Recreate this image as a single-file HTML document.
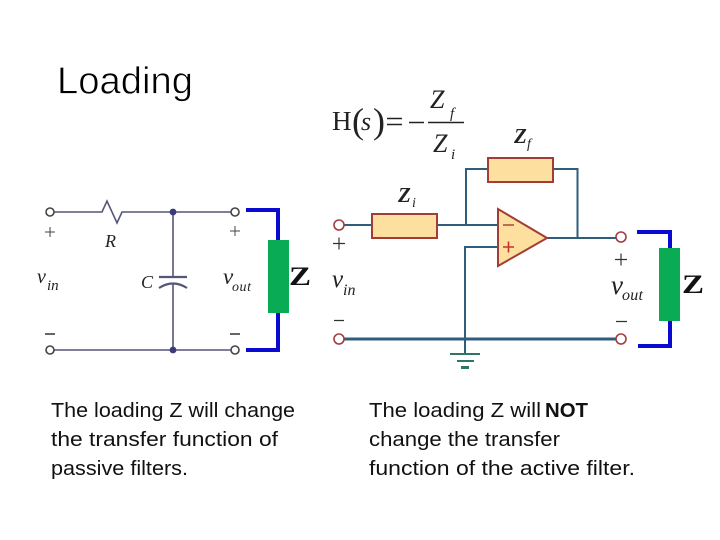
<!DOCTYPE html>
<html>
<head>
<meta charset="utf-8">
<style>
html,body{margin:0;padding:0;background:#fff;width:720px;height:540px;overflow:hidden}
svg{display:block}
.s{font-family:"Liberation Serif",serif}
.i{font-family:"Liberation Serif",serif;font-style:italic}
.t{font-family:"Liberation Sans",sans-serif;fill:#111}
</style>
</head>
<body>
<svg width="720" height="540" viewBox="0 0 720 540" xmlns="http://www.w3.org/2000/svg">
<rect width="720" height="540" fill="#fff"/>
<text x="57" y="93.500" font-family="Liberation Sans, sans-serif" font-size="38" textLength="136" lengthAdjust="spacingAndGlyphs" fill="#000" stroke="#fff" stroke-width="0.7">Loading</text>

<!-- Left circuit -->
<g fill="none" stroke="#55557a" stroke-width="1.6">
<path d="M54 212H102L107 201L117 223L122 212H231"/>
<path d="M54 350H231"/>
<path d="M173 212V277M173 284V350"/>
<path d="M159 277H187" stroke-width="2.2"/>
<path d="M159 288Q173 279 187 288" stroke-width="2.2"/>
<circle cx="50" cy="212" r="4" stroke="#444"/>
<circle cx="50" cy="350" r="4" stroke="#444"/>
<circle cx="235" cy="212" r="4" stroke="#444"/>
<circle cx="235" cy="350" r="4" stroke="#444"/>
</g>
<circle cx="173" cy="212" r="3.400" fill="#3b3b78"/>
<circle cx="173" cy="350" r="3.400" fill="#3b3b78"/>
<path d="M246 210H278V240M278 313V350H246" fill="none" stroke="#0a0ad0" stroke-width="4"/>
<rect x="268" y="240" width="21" height="73" fill="#0aab55"/>
<text class="s" x="289" y="285" font-size="26" font-weight="bold" textLength="22" lengthAdjust="spacingAndGlyphs" fill="#111">Z</text>
<path d="M45 232H55M50 227V237M230 231H240M235 226V236" stroke="#444" stroke-width="1" fill="none"/>
<path d="M45 334H55M230 334H240" stroke="#333" stroke-width="1.400"/>
<text class="i" x="105" y="247" font-size="18" fill="#222">R</text>
<text class="i" x="141" y="288" font-size="18" fill="#222">C</text>
<text class="i" x="37" y="283" font-size="20" fill="#222">v</text>
<text class="i" x="47" y="290" font-size="15" fill="#222">in</text>
<text class="i" x="223" y="284" font-size="23" fill="#222">v</text>
<text class="i" x="232" y="291" font-size="14" textLength="19" fill="#222">out</text>

<!-- Formula -->
<text class="s" x="332" y="130" font-size="27" fill="#222">H</text>
<text class="s" x="352" y="133" font-size="36" fill="#222">(</text>
<text class="i" x="361" y="130" font-size="26" fill="#222">s</text>
<text class="s" x="373" y="133" font-size="36" fill="#222">)</text>
<path d="M387 118.500H402M387 124.500H402M409 122.500H424M428 122.500H464" stroke="#222" stroke-width="1.400" fill="none"/>
<text class="i" x="430" y="108" font-size="26" fill="#222">Z</text>
<text class="i" x="450" y="118" font-size="15" fill="#222">f</text>
<text class="i" x="433" y="152" font-size="26" fill="#222">Z</text>
<text class="i" x="451" y="159" font-size="15" fill="#222">i</text>

<!-- Right circuit -->
<g fill="none" stroke="#2f5d7c" stroke-width="2">
<path d="M344 225H372M437 225H498M466 225V169H488M553 169H577.500V238M547 238H616"/>
<path d="M498 247H465V354"/>
<path d="M344 339H616" stroke-width="3"/>
</g>
<path d="M450 354H480M457 361H474" stroke="#2f7565" stroke-width="2" fill="none"/>
<path d="M461 367.500H469" stroke="#2f7565" stroke-width="3" fill="none"/>
<rect x="372" y="214" width="65" height="24" fill="#fde09f" stroke="#a23c34" stroke-width="2"/>
<rect x="488" y="158" width="65" height="24" fill="#fde09f" stroke="#a23c34" stroke-width="2"/>
<path d="M498 209L547 238L498 266Z" fill="#fde09f" stroke="#a23c34" stroke-width="2"/>
<path d="M503 225H514" stroke="#a23c34" stroke-width="1.400"/>
<path d="M503 247H514M508.500 241.500V252.500" stroke="#c9302a" stroke-width="1.600"/>
<g fill="#fff" stroke="#a23c44" stroke-width="1.600">
<circle cx="339" cy="225" r="5"/>
<circle cx="339" cy="339" r="5"/>
<circle cx="621" cy="237" r="5"/>
<circle cx="621" cy="339" r="5"/>
</g>
<path d="M637 232H670V248M670 321V346H638" fill="none" stroke="#0a0ad0" stroke-width="4"/>
<rect x="659" y="248" width="21" height="73" fill="#0aab55"/>
<text class="s" x="682" y="293" font-size="26" font-weight="bold" textLength="22" lengthAdjust="spacingAndGlyphs" fill="#111">Z</text>
<path d="M333 243.500H345M339 237.500V249.500M615 259.500H627M621 253.500V265.500" stroke="#333" stroke-width="1.200" fill="none"/>
<path d="M334 320.500H344M616 321.500H627" stroke="#333" stroke-width="1.200" fill="none"/>
<text class="i" x="398" y="202" font-size="21" font-weight="bold" fill="#222">Z</text>
<text class="i" x="412" y="207" font-size="14" fill="#222">i</text>
<text class="i" x="514" y="143" font-size="21" font-weight="bold" fill="#222">Z</text>
<text class="i" x="527" y="148" font-size="14" fill="#222">f</text>
<text class="i" x="332" y="287" font-size="25" fill="#222">v</text>
<text class="i" x="343" y="295" font-size="16" fill="#222">in</text>
<text class="i" x="611" y="294" font-size="27" fill="#222">v</text>
<text class="i" x="622" y="300" font-size="16" textLength="21" fill="#222">out</text>

<!-- Captions -->
<g font-size="20">
<text class="t" x="51" y="417" textLength="244" lengthAdjust="spacingAndGlyphs">The loading Z will change</text>
<text class="t" x="51" y="446" textLength="227" lengthAdjust="spacingAndGlyphs">the transfer function of</text>
<text class="t" x="51" y="475" textLength="137" lengthAdjust="spacingAndGlyphs">passive filters.</text>
<text class="t" x="369" y="417" textLength="172" lengthAdjust="spacingAndGlyphs">The loading Z will</text>
<text class="t" x="545" y="417" textLength="43" lengthAdjust="spacingAndGlyphs" font-weight="bold">NOT</text>
<text class="t" x="369" y="446" textLength="191" lengthAdjust="spacingAndGlyphs">change the transfer</text>
<text class="t" x="369" y="475" textLength="266" lengthAdjust="spacingAndGlyphs">function of the active filter.</text>
</g>
</svg>
</body>
</html>
